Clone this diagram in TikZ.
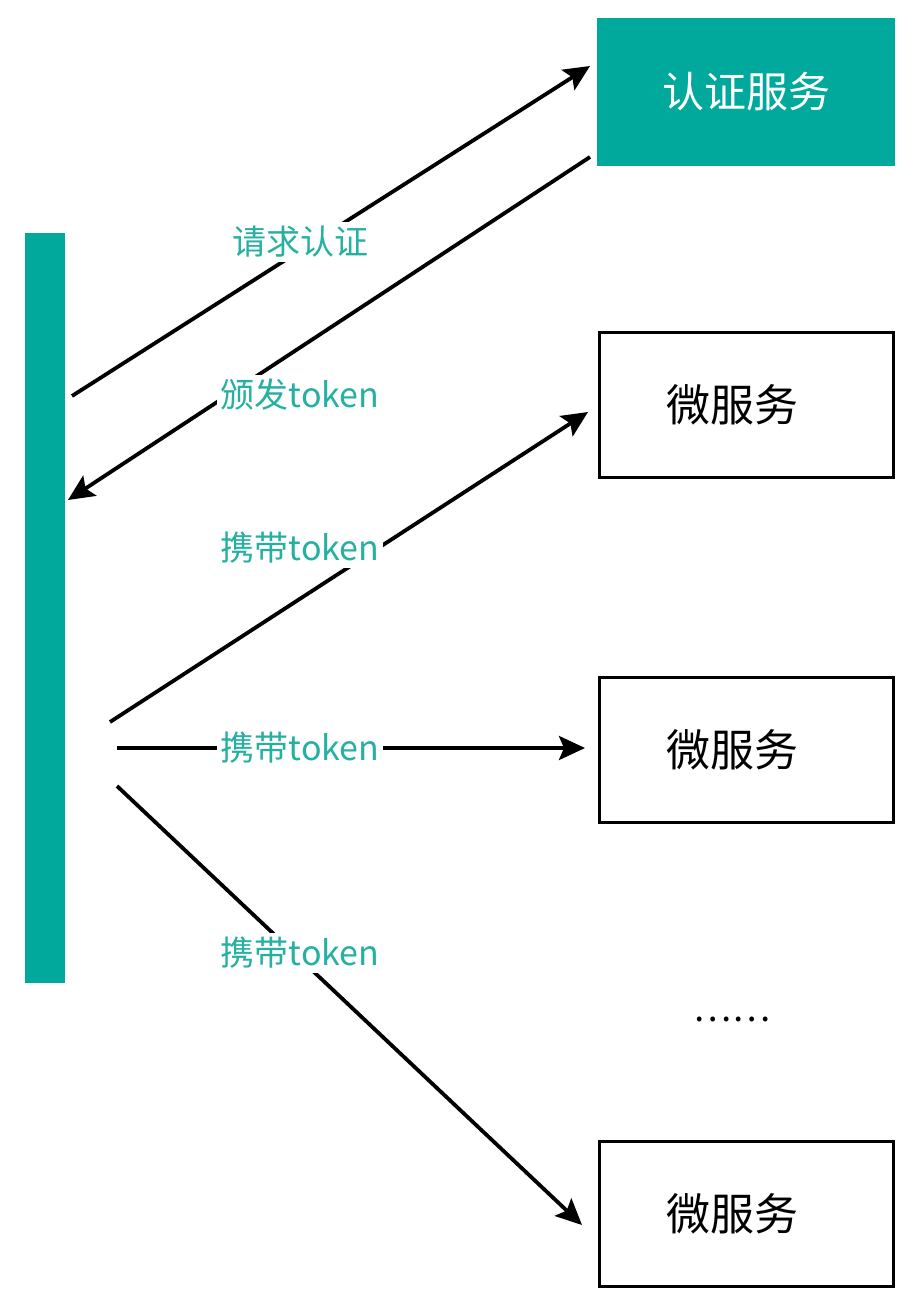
\documentclass[tikz,border=0pt]{standalone}
\usepackage{fontspec}
\setmainfont{Noto Sans CJK SC}
\usetikzlibrary{arrows.meta}

\definecolor{teal1}{HTML}{00A99C}
\definecolor{teal2}{HTML}{26B0A1}

\tikzset{
	svcbox/.style={draw=black, line width=1.5pt, minimum width=147pt, minimum height=72.5pt, font=\fontsize{22}{24}\selectfont},
	authbox/.style={fill=teal1, text=white, minimum width=149pt, minimum height=74pt, font=\fontsize{21}{24}\selectfont},
	lbl/.style={fill=white, text=teal2, inner sep=2pt, font=\fontsize{17}{20}\selectfont},
	arr/.style={line width=1.9pt, -{Stealth[length=13pt,width=12pt,inset=2.5pt]}}
}

\begin{document}
\begin{tikzpicture}[x=0.5pt, y=-0.5pt]
	\useasboundingbox (0,0) rectangle (918,1311);

	\node[fill=teal1, minimum width=20pt, minimum height=375pt, inner sep=0pt] (bar) at (45,608) {};
	\node[authbox] (auth) at (746,92) {认证服务};
	\node[svcbox] (ms1) at (746,405) {微服务\kern14pt};
	\node[svcbox] (ms2) at (746,750) {微服务\kern14pt};
	\node[svcbox] (ms3) at (746,1214) {微服务\kern14pt};
	\node[font=\fontsize{18}{20}\selectfont] (dots) at (732,1019) {……};

	\coordinate (s1) at (72,396);
	\coordinate (e1) at (590,66);
	\coordinate (s2) at (590,157);
	\coordinate (e2) at (68,500);
	\coordinate (s3) at (110,722);
	\coordinate (e3) at (588,412);
	\coordinate (s4) at (117,748);
	\coordinate (e4) at (585,748);
	\coordinate (s5) at (117,786);
	\coordinate (e5) at (582,1225);

	\path [arr] (s1) edge (e1);
	\path [arr] (s2) edge (e2);
	\path [arr] (s3) edge (e3);
	\path [arr] (s4) edge (e4);
	\path [arr] (s5) edge (e5);

	\node[lbl] (l1) at (300,242) {请求认证};
	\node[lbl] (l2) at (300,395) {颁发token};
	\node[lbl] (l3) at (300,548) {携带token};
	\node[lbl] (l4) at (300,748) {携带token};
	\node[lbl] (l5) at (300,953) {携带token};
\end{tikzpicture}
\end{document}
